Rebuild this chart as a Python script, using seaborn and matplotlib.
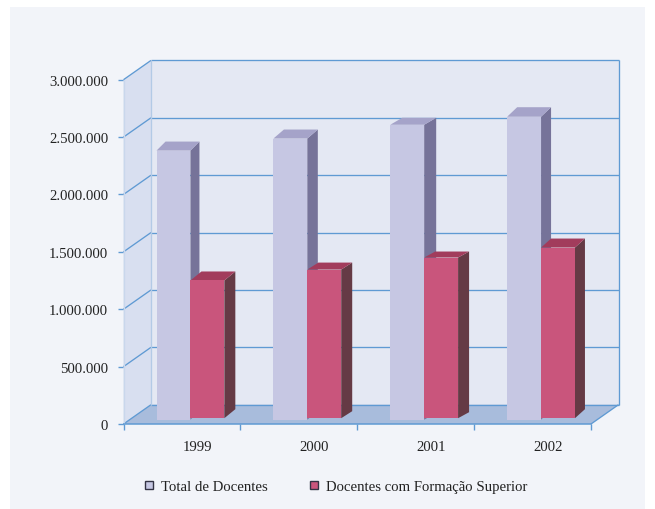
import matplotlib
matplotlib.use("Agg")
import matplotlib.pyplot as plt
import pandas as pd
import seaborn as sns
from matplotlib.patches import Polygon, Rectangle
from matplotlib.ticker import FuncFormatter
from matplotlib.transforms import Affine2D, IdentityTransform

ANOS = ["1999", "2000", "2001", "2002"]
TOTAL_DOCENTES = [2345000, 2450000, 2570000, 2640000]
DOCENTES_SUPERIOR = [1200000, 1295000, 1400000, 1487000]
SERIES = ["Total de Docentes", "Docentes com Formação Superior"]
Y_TICKS = [0, 500000, 1000000, 1500000, 2000000, 2500000, 3000000]

LINHA = "#5f9ad3"
CORES = {SERIES[0]: "#c6c7e3", SERIES[1]: "#c9557c"}
LATERAL = {SERIES[0]: "#767399", SERIES[1]: "#653a45"}
TOPO = {SERIES[0]: "#a5a3c9", SERIES[1]: "#a23c5c"}
# deslocamento das barras em relacao ao plano frontal (pixels)
DESLOC = {SERIES[0]: (8.5, 4.3), SERIES[1]: (8.5, 5.8)}
PROF = (27.5, 19.3)
# profundidade de cada barra em pixels, o original nao e regular
PROF_BARRA = {
    SERIES[0]: [(9, 9), (10.5, 9), (12, 7), (10, 9.5)],
    SERIES[1]: [(11, 9), (11, 7), (11, 6), (10, 9)],
}

sns.set_theme(style="white")
plt.rcParams["font.family"] = ["Liberation Serif", "DejaVu Serif"]
plt.rcParams["font.size"] = 10.6

W, H = 655, 510
fig = plt.figure(figsize=(W / 100, H / 100), dpi=100, facecolor="white")
fig.add_artist(Rectangle((10 / W, 0), 635 / W, 502 / H, transform=fig.transFigure,
                         facecolor="#f2f4f9", edgecolor="none", zorder=-5))
ax = fig.add_axes([123.5 / W, 1 - 425 / H, 467.5 / W, 344.3 / H])
ax.patch.set_visible(False)

df = pd.DataFrame({
    "ano": ANOS * 2,
    "docentes": TOTAL_DOCENTES + DOCENTES_SUPERIOR,
    "serie": [SERIES[0]] * 4 + [SERIES[1]] * 4,
})
sns.barplot(data=df, x="ano", y="docentes", hue="serie", hue_order=SERIES,
            palette=CORES, saturation=1, width=0.58, gap=0, linewidth=0, ax=ax)
ax.set_xlim(-0.5, 3.5)
ax.set_ylim(0, 3000000)


def px(x, y):
    return ax.transData.transform((x, y))


def poly(pontos, cor, z, lw=0, edge="none"):
    ax.add_patch(Polygon(pontos, closed=True, transform=IdentityTransform(), facecolor=cor,
                         edgecolor=edge, linewidth=lw, zorder=z, clip_on=False))


def linha(a, b, cor=LINHA, lw=0.95, z=1.5):
    ax.plot([a[0], b[0]], [a[1], b[1]], color=cor, lw=lw, zorder=z, clip_on=False,
            transform=IdentityTransform(), solid_capstyle="butt")


dx, dy = PROF
x0, x1 = -0.5, 3.5
y_top = Y_TICKS[-1]
base_e, base_d = px(x0, 0), px(x1, 0)
topo_e = px(x0, y_top)

# paredes e chao
poly([base_e + (dx, dy), base_d + (dx, dy), px(x1, y_top) + (dx, dy), topo_e + (dx, dy)], "#e4e8f3", 1)
poly([base_e, base_e + (dx, dy), topo_e + (dx, dy), topo_e], "#d8dff0", 1)
poly([base_e, base_d, base_d + (dx, dy), base_e + (dx, dy)], "#a8bcdc", 1.2)

for v in Y_TICKS[1:]:
    e = px(x0, v)
    d = px(x1, v)
    linha(e, e + (dx, dy))
    linha(e + (dx, dy), d + (dx, dy))
linha(base_e, base_e + (dx, dy))
linha(base_d, base_d + (dx, dy))
linha(base_e + (dx, dy), base_d + (dx, dy))
linha(base_d + (dx, dy), px(x1, y_top) + (dx, dy))
linha(base_e + (dx, dy), topo_e + (dx, dy), cor="#b3cae6")
linha(base_e, topo_e, cor="#c9d7ec")

# faces de profundidade das barras
for z, (serie, cont) in enumerate(zip(SERIES, ax.containers)):
    sx, sy = DESLOC[serie]
    for barra, (px_x, px_y) in zip(cont, PROF_BARRA[serie]):
        barra.set_transform(ax.transData + Affine2D().translate(sx, sy))
        barra.set_clip_on(False)
        barra.set_zorder(3 + 2 * z)
        a = px(barra.get_x(), 0) + (sx, sy)
        b = px(barra.get_x() + barra.get_width(), barra.get_height()) + (sx, sy)
        poly([(b[0], a[1]), (b[0] + px_x, a[1] + px_y), (b[0] + px_x, b[1] + px_y), (b[0], b[1])],
             LATERAL[serie], 2.9 + 2 * z)
        poly([(a[0], b[1]), (b[0], b[1]), (b[0] + px_x, b[1] + px_y), (a[0] + px_x, b[1] + px_y)],
             TOPO[serie], 2.9 + 2 * z)

# eixos
sns.despine(ax=ax, left=True, top=True, right=True)
ax.spines["bottom"].set_color(LINHA)
ax.spines["bottom"].set_linewidth(1.1)
ax.spines["bottom"].set_zorder(6)
ax.set_xlabel("")
ax.set_ylabel("")
ax.set_yticks(Y_TICKS)
ax.yaxis.set_major_formatter(FuncFormatter(lambda v, _: f"{int(v):,}".replace(",", ".")))
ax.set_xticks([i + 0.13 for i in range(len(ANOS))], labels=ANOS)
ax.set_xticks([i - 0.5 for i in range(len(ANOS) + 1)], minor=True)
ax.tick_params(axis="y", length=4, width=1, color=LINHA, pad=7, labelcolor="#222222", labelsize=10.6, left=True)
ax.tick_params(axis="x", which="major", length=0, pad=11.5, labelcolor="#222222", labelsize=10.6)
ax.tick_params(axis="x", which="minor", length=4, width=1, color=LINHA, bottom=True)

handles, labels = ax.get_legend_handles_labels()
for h in handles:
    h.set_edgecolor("#333344")
    h.set_linewidth(1)
ax.legend(handles, labels, ncol=2, frameon=False, loc="center left", fontsize=10.6,
          bbox_to_anchor=(0.018, -0.182), handlelength=0.55, handleheight=0.55,
          handletextpad=0.55, columnspacing=2.85, labelcolor="#222222")

fig.savefig("out.png", dpi=100, facecolor="white")
